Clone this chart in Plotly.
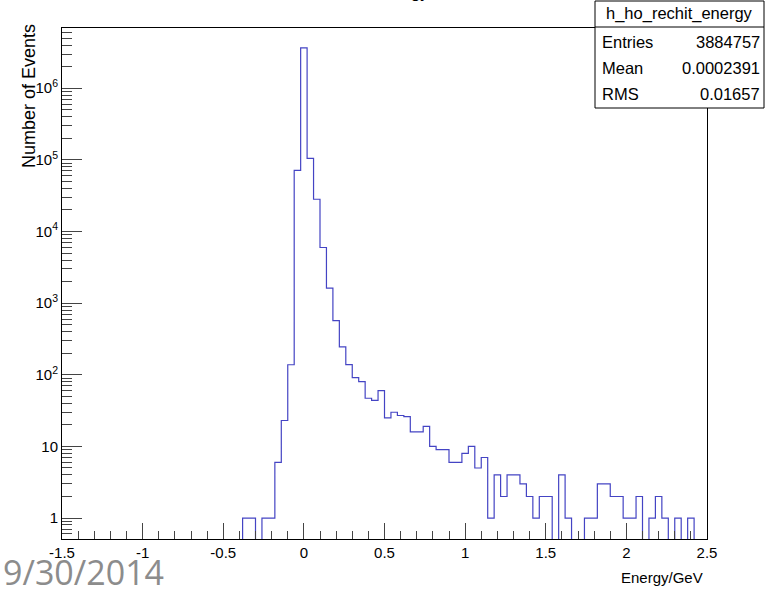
import numpy as np
import plotly.graph_objects as go

# ---- data ----
bin_low = -1.5
bin_high = 2.5
n_bins = 100
counts = [0] * 28 + [
    1, 1, 0, 1, 1, 6, 23, 138, 71500, 3660000,
    105000, 28200, 5980, 1620, 570, 245, 139, 91, 80, 47,
    44, 60, 25, 30, 27, 26, 16, 16, 19, 10,
    9, 9, 6, 6, 8, 10, 5, 7, 1, 4,
    2, 4, 4, 3, 2, 1, 2, 2, 0, 4,
    1, 0, 0, 1, 1, 3, 3, 2, 2, 1,
    1, 2, 0, 1, 2, 1, 0, 1, 0, 1,
    0, 0,
]
x_tick_vals = [-1.5, -1, -0.5, 0, 0.5, 1, 1.5, 2, 2.5]
x_tick_text = ["-1.5", "-1", "-0.5", "0", "0.5", "1", "1.5", "2", "2.5"]
y_tick_vals = [1, 10, 100, 1000, 10000, 100000, 1000000]
y_tick_text = ["1", "10", "10<sup>2</sup>", "10<sup>3</sup>", "10<sup>4</sup>",
               "10<sup>5</sup>", "10<sup>6</sup>"]
hist_name = "h_ho_rechit_energy"
stat_labels = ["Entries", "Mean", "RMS"]
stat_values = ["3884757", "0.0002391", "0.01657"]
title_text = "HO RecHit Energy"
x_title = "Energy/GeV"
y_title = "Number of Events"
date_text = "9/30/2014"

y_min, y_max = 0.51, 6.93e6

# ---- build step outline ----
edges = np.linspace(bin_low, bin_high, n_bins + 1)
c = np.array(counts, dtype=float)
floor = y_min / 100.0
c_plot = np.where(c > 0, c, floor)
y_step = np.append(c_plot, c_plot[-1])

FONT = "Liberation Sans, Arial, sans-serif"
TICKC = "#444444"

fig = go.Figure()
fig.add_trace(go.Scatter(
    x=edges, y=y_step, mode="lines", line_shape="hv",
    line=dict(color="#4444c4", width=1.2), hoverinfo="skip", showlegend=False,
))

minor_x = [v for v in np.round(np.arange(bin_low, bin_high + 1e-9, 0.1), 6)]
minor_y = [m * 10.0 ** d for d in range(-1, 7) for m in range(2, 10)
           if y_min <= m * 10.0 ** d <= y_max]

fig.update_xaxes(
    range=[bin_low, bin_high], tickmode="array", tickvals=x_tick_vals, ticktext=x_tick_text,
    ticks="inside", ticklen=16, tickcolor=TICKC, tickwidth=1,
    showline=True, linecolor="black", linewidth=1, mirror=True,
    showgrid=False, zeroline=False, automargin=False,
    tickfont=dict(family=FONT, size=15, color="black"),
    minor=dict(tickmode="array", tickvals=minor_x, ticks="inside", ticklen=8,
               tickcolor=TICKC, showgrid=False),
)
fig.update_yaxes(
    type="log", range=[np.log10(y_min), np.log10(y_max)],
    tickmode="array", tickvals=y_tick_vals, ticktext=y_tick_text,
    ticks="inside", ticklen=20, tickcolor=TICKC, tickwidth=1,
    showline=True, linecolor="black", linewidth=1, mirror=True,
    showgrid=False, zeroline=False, automargin=False,
    tickfont=dict(family=FONT, size=15, color="black"),
    minor=dict(tickmode="array", tickvals=minor_y, ticks="inside", ticklen=10,
               tickcolor=TICKC, showgrid=False),
)

L, R, T, B = 62, 58, 28, 50
W, H = 765, 589
pw, ph = W - L - R, H - T - B


def px(x):
    return (x - L) / pw


def py(y):
    return (H - B - y) / ph


shapes = [
    dict(type="rect", xref="paper", yref="paper", x0=px(595), x1=px(764), y0=py(108), y1=py(1),
         line=dict(color="black", width=1), fillcolor="white", layer="above"),
    dict(type="line", xref="paper", yref="paper", x0=px(595), x1=px(764), y0=py(27), y1=py(27),
         line=dict(color="black", width=1), layer="above"),
]

SF = 16.5
ann = []
ann.append(dict(text=hist_name, x=px(679.5), y=py(14), xref="paper", yref="paper",
                xanchor="center", yanchor="middle", showarrow=False,
                font=dict(family=FONT, size=SF, color="black")))
for i, (lab, val) in enumerate(zip(stat_labels, stat_values)):
    yy = [41.5, 68, 94.5][i]
    ann.append(dict(text=lab, x=px(600), y=py(yy), xref="paper", yref="paper",
                    xanchor="left", yanchor="middle", showarrow=False,
                    font=dict(family=FONT, size=SF, color="black")))
    ann.append(dict(text=val, x=px(762), y=py(yy), xref="paper", yref="paper",
                    xanchor="right", yanchor="middle", showarrow=False,
                    font=dict(family=FONT, size=SF, color="black")))
ann.append(dict(text=y_title, x=px(29), y=py(96), xref="paper", yref="paper",
                xanchor="center", yanchor="middle", textangle=-90, showarrow=False,
                font=dict(family=FONT, size=18, color="black")))
ann.append(dict(text=x_title, x=px(705), y=py(577), xref="paper", yref="paper",
                xanchor="right", yanchor="middle", showarrow=False,
                font=dict(family=FONT, size=15, color="black")))
ann.append(dict(text=date_text, x=px(1), y=py(572), xref="paper", yref="paper",
                xanchor="left", yanchor="middle", showarrow=False,
                font=dict(family="Open Sans, Noto Sans, sans-serif", size=34, color="#8c8c8c")))
ann.append(dict(text=title_text, x=px(431), y=py(4), xref="paper", yref="paper",
                xanchor="right", yanchor="bottom", showarrow=False,
                font=dict(family=FONT, size=17, color="black")))

fig.update_layout(
    width=W, height=H, autosize=False,
    margin=dict(l=L, r=R, t=T, b=B, pad=0),
    paper_bgcolor="white", plot_bgcolor="white",
    shapes=shapes, annotations=ann, showlegend=False,
)

fig.write_html("out.html", config={"displayModeBar": False},
               post_script="document.body.style.margin='0';document.body.style.padding='0';")
